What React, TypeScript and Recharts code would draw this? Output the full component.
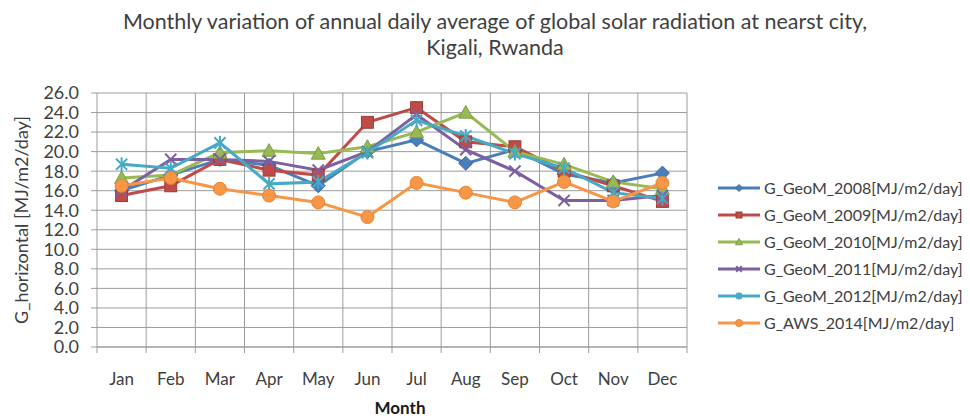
import React from "react";
import { CartesianGrid, Line, LineChart, XAxis, YAxis } from "recharts";

const months = ["Jan", "Feb", "Mar", "Apr", "May", "Jun", "Jul", "Aug", "Sep", "Oct", "Nov", "Dec"];

const geom2008 = [16.0, 17.6, 19.2, 18.6, 16.5, 20.0, 21.2, 18.8, 20.2, 17.7, 16.8, 17.8];
const geom2009 = [15.5, 16.5, 19.2, 18.1, 17.6, 23.0, 24.5, 21.0, 20.5, 18.0, 16.5, 14.9];
const geom2010 = [17.3, 17.6, 19.9, 20.1, 19.8, 20.5, 22.0, 24.0, 20.0, 18.7, 16.9, 16.2];
const geom2011 = [16.0, 19.2, 19.2, 19.0, 18.1, 20.0, 23.8, 20.2, 18.0, 15.0, 15.0, 15.5];
const geom2012 = [18.7, 18.3, 20.9, 16.7, 16.9, 19.9, 23.2, 21.6, 19.8, 18.3, 15.8, 15.2];
const aws2014 = [16.5, 17.3, 16.2, 15.5, 14.8, 13.3, 16.8, 15.8, 14.8, 16.9, 14.9, 16.8];

const yTicks = [0, 2, 4, 6, 8, 10, 12, 14, 16, 18, 20, 22, 24, 26];

type MarkerKind = "diamond" | "square" | "triangle" | "x" | "star" | "circle";

const series: { key: string; name: string; values: number[]; color: string; edge: string; marker: MarkerKind }[] = [
  { key: "g2008", name: "G_GeoM_2008[MJ/m2/day]", values: geom2008, color: "#4A7EBB", edge: "#3A6AA5", marker: "diamond" },
  { key: "g2009", name: "G_GeoM_2009[MJ/m2/day]", values: geom2009, color: "#BE4B48", edge: "#9E3B38", marker: "square" },
  { key: "g2010", name: "G_GeoM_2010[MJ/m2/day]", values: geom2010, color: "#98B954", edge: "#7E9E42", marker: "triangle" },
  { key: "g2011", name: "G_GeoM_2011[MJ/m2/day]", values: geom2011, color: "#7D60A0", edge: "#7D60A0", marker: "x" },
  { key: "g2012", name: "G_GeoM_2012[MJ/m2/day]", values: geom2012, color: "#46AAC5", edge: "#46AAC5", marker: "star" },
  { key: "aws2014", name: "G_AWS_2014[MJ/m2/day]", values: aws2014, color: "#F79646", edge: "#E8852F", marker: "circle" },
];

const data = months.map((m, i) => {
  const row: Record<string, string | number> = { month: m };
  series.forEach((s) => (row[s.key] = s.values[i]));
  return row;
});

const FONT = "Lato, 'Open Sans', sans-serif";
const GRID = "#9c9c9c";

function Marker({ kind, cx, cy, r, fill, edge }: { kind: MarkerKind; cx: number; cy: number; r: number; fill: string; edge: string }) {
  switch (kind) {
    case "diamond":
      return <polygon points={`${cx},${cy - r} ${cx + r},${cy} ${cx},${cy + r} ${cx - r},${cy}`} fill={fill} stroke={edge} strokeWidth={1} />;
    case "square":
      return <rect x={cx - r * 0.85} y={cy - r * 0.85} width={r * 1.7} height={r * 1.7} fill={fill} stroke={edge} strokeWidth={1} />;
    case "triangle":
      return <polygon points={`${cx},${cy - r} ${cx + r},${cy + r * 0.8} ${cx - r},${cy + r * 0.8}`} fill={fill} stroke={edge} strokeWidth={1} />;
    case "x":
      return (
        <g stroke={fill} strokeWidth={2}>
          <line x1={cx - r * 0.8} y1={cy - r * 0.8} x2={cx + r * 0.8} y2={cy + r * 0.8} />
          <line x1={cx - r * 0.8} y1={cy + r * 0.8} x2={cx + r * 0.8} y2={cy - r * 0.8} />
        </g>
      );
    case "star":
      return (
        <g stroke={fill} strokeWidth={2}>
          <line x1={cx - r * 0.8} y1={cy - r * 0.8} x2={cx + r * 0.8} y2={cy + r * 0.8} />
          <line x1={cx - r * 0.8} y1={cy + r * 0.8} x2={cx + r * 0.8} y2={cy - r * 0.8} />
          <line x1={cx} y1={cy - r} x2={cx} y2={cy + r} />
        </g>
      );
    default:
      return <circle cx={cx} cy={cy} r={r} fill={fill} stroke={edge} strokeWidth={1} />;
  }
}

// Excel-style category ticks: short marks on the band edges, label centred in the band
const MonthTick = (props: any) => {
  const { x, y, payload, index, band, axisY } = props;
  const half = band / 2;
  return (
    <g>
      <line x1={x - half} y1={axisY} x2={x - half} y2={axisY + 6} stroke={GRID} />
      {index === months.length - 1 && <line x1={x + half} y1={axisY} x2={x + half} y2={axisY + 6} stroke={GRID} />}
      <text x={x} y={y + 30} textAnchor="middle" fill="#404040" fontSize={17} fontFamily={FONT}>
        {payload.value}
      </text>
    </g>
  );
};

const LegendBox = () => (
  <div style={{ position: "absolute", left: 716, top: 174, fontFamily: FONT, fontSize: 16, color: "#404040" }}>
    {series.map((s) => (
      <div key={s.key} style={{ display: "flex", alignItems: "center", height: 27 }}>
        <svg width={46} height={14} style={{ flex: "none" }}>
          <line x1={2} y1={7} x2={44} y2={7} stroke={s.color} strokeWidth={3} />
          <Marker kind={s.marker} cx={23} cy={7} r={3.5} fill={s.color} edge={s.edge} />
        </svg>
        <span style={{ marginLeft: 2, whiteSpace: "nowrap" }}>{s.name}</span>
      </div>
    ))}
  </div>
);

export default function App() {
  const width = 970;
  const height = 419;
  const margin = { top: 93, right: 283, bottom: 0, left: 17 };
  const xAxisH = 72;
  const plotW = width - margin.left - 80 - margin.right;
  const band = plotW / months.length;
  const axisY = height - xAxisH;

  return (
    <div style={{ position: "absolute", left: 0, top: 0, width, height, background: "#fff", fontFamily: FONT }}>
      <div
        style={{
          position: "absolute",
          left: 0,
          top: 8,
          width: 990,
          textAlign: "center",
          fontSize: 21.5,
          lineHeight: "26px",
          color: "#404040",
        }}
      >
        Monthly variation of annual daily average of global solar radiation at nearst city,
        <br />
        Kigali, Rwanda
      </div>
      <LineChart width={width} height={height} data={data} margin={margin}>
        <CartesianGrid
          stroke={GRID}
          verticalCoordinatesGenerator={({ offset }: any) =>
            months.map((_, i) => offset.left + ((i + 1) * offset.width) / months.length)
          }
        />
        <XAxis
          dataKey="month"
          height={xAxisH}
          padding={{ left: band / 2, right: band / 2 }}
          axisLine={{ stroke: GRID }}
          tickLine={false}
          interval={0}
          tick={<MonthTick band={band} axisY={axisY} />}
          label={{ value: "Month", position: "insideBottom", offset: 5, dx: 8, fill: "#1a1a1a", fontSize: 17, fontWeight: 700, fontFamily: FONT }}
        />
        <YAxis
          width={80}
          domain={[0, 26]}
          ticks={yTicks}
          interval={0}
          tickFormatter={(v: number) => v.toFixed(1)}
          axisLine={{ stroke: GRID }}
          tickLine={{ stroke: GRID }}
          tickSize={6}
          tickMargin={12}
          tick={{ fill: "#404040", fontSize: 18, fontFamily: FONT }}
          label={{
            value: "G_horizontal [MJ/m2/day]",
            angle: -90,
            position: "insideLeft",
            offset: 5,
            fill: "#404040",
            fontSize: 18,
            fontFamily: FONT,
            style: { textAnchor: "middle" },
          }}
        />
        {series.map((s) => (
          <Line
            key={s.key}
            dataKey={s.key}
            name={s.name}
            stroke={s.color}
            strokeWidth={3}
            isAnimationActive={false}
            dot={(p: any) => (
              <g key={`${s.key}-${p.index}`}>
                <Marker kind={s.marker} cx={p.cx} cy={p.cy} r={s.marker === "circle" ? 6.5 : 7} fill={s.color} edge={s.edge} />
              </g>
            )}
            activeDot={false}
          />
        ))}
      </LineChart>
      <LegendBox />
    </div>
  );
}
